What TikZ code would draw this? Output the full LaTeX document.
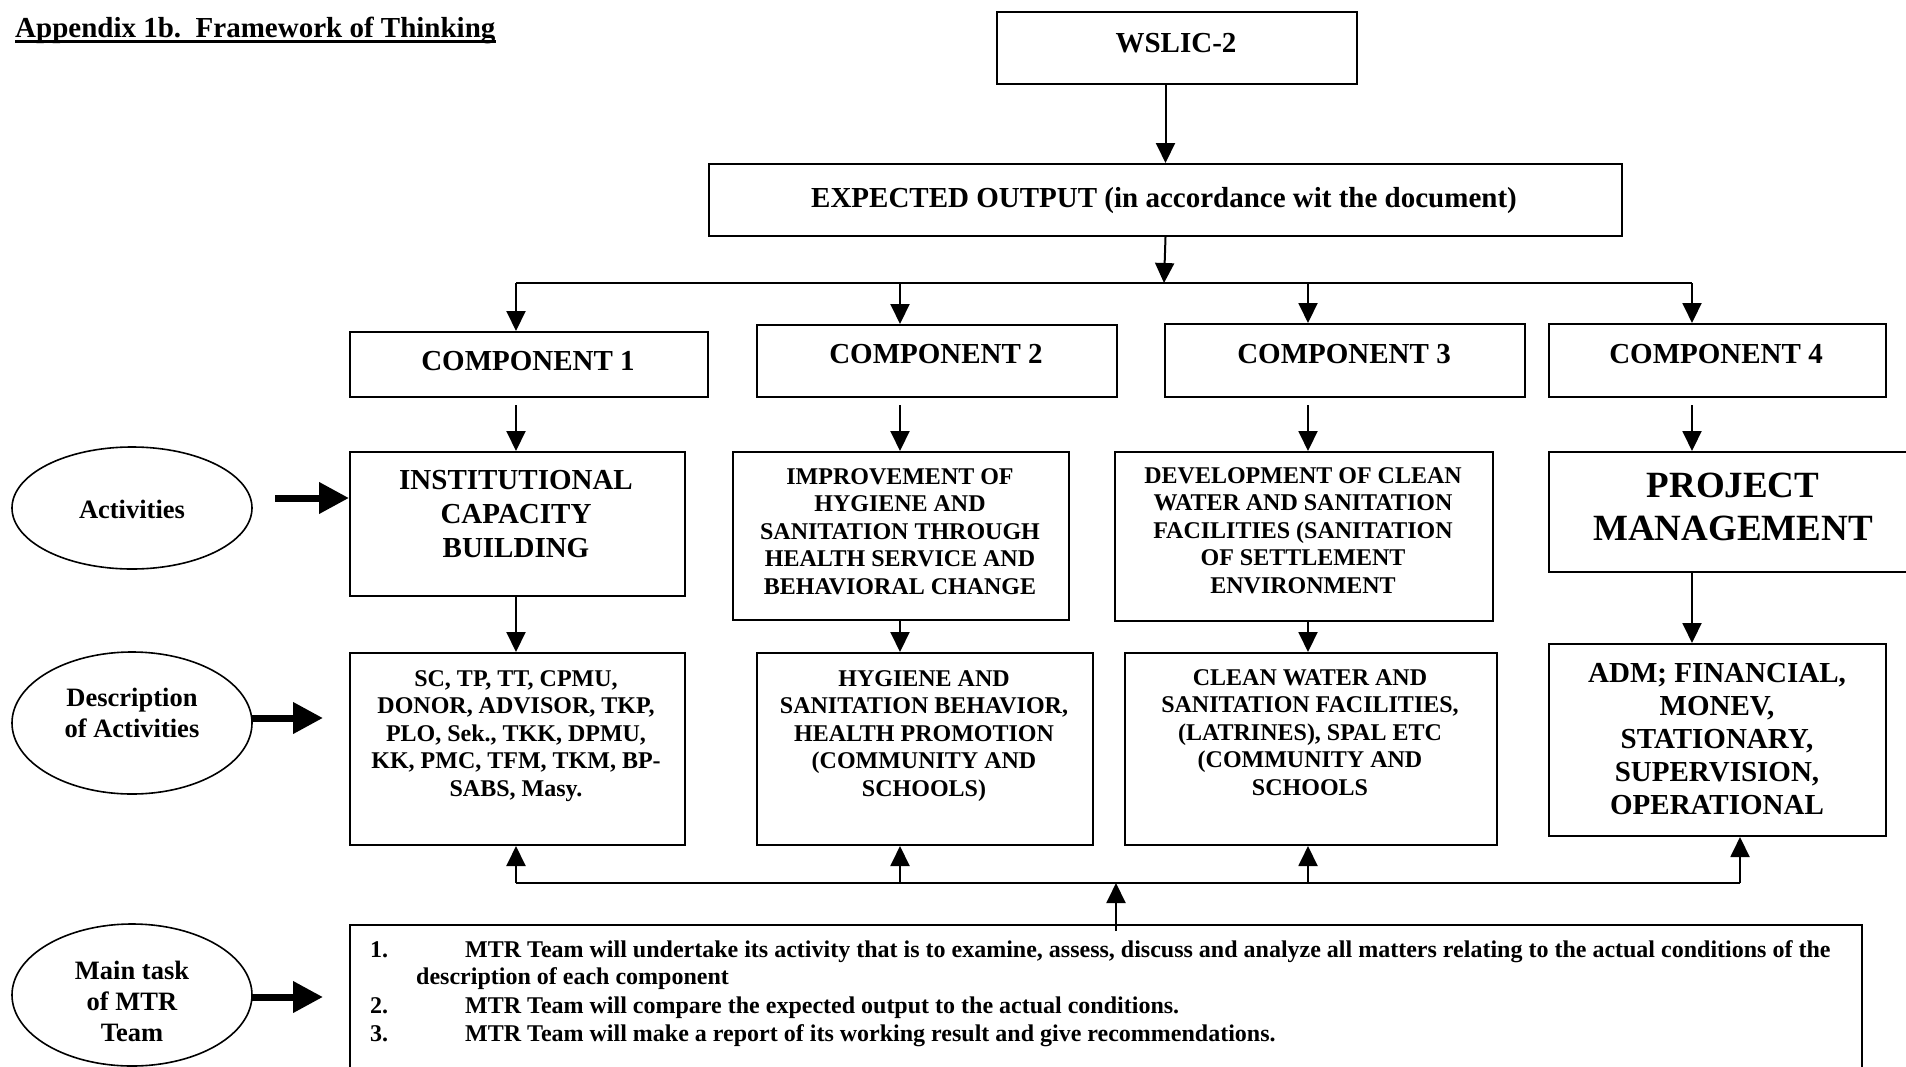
\documentclass[tikz,border=0pt]{standalone}
\usepackage{fontspec}
\setmainfont{Liberation Serif}
\usetikzlibrary{arrows.meta,shapes.geometric}
\begin{document}
\begin{tikzpicture}[x=1pt,y=-1pt,
  box/.style={draw, line width=2pt, rectangle, inner sep=0pt, anchor=north west},
  oval/.style={draw, ellipse, line width=1.6pt, inner sep=0pt},
  conn/.style={line width=2pt, -{Triangle[length=20pt,width=19pt]}},
  plain/.style={line width=2pt},
  fat/.style={line width=7pt, -{Triangle[length=30pt,width=30pt]}},
  tA/.style={font=\fontsize{29}{34}\selectfont\bfseries, align=center, anchor=base, inner sep=0pt},
  tB/.style={font=\fontsize{24}{27.5}\selectfont\bfseries, align=center, anchor=base, inner sep=0pt},
  tC/.style={font=\fontsize{37}{43}\selectfont\bfseries, align=center, anchor=base, inner sep=0pt},
  tD/.style={font=\fontsize{29}{33}\selectfont\bfseries, align=center, anchor=base, inner sep=0pt},
  tE/.style={font=\fontsize{26.5}{31}\selectfont\bfseries, align=center, anchor=base, inner sep=0pt},
  tM/.style={font=\fontsize{24}{27.5}\selectfont\bfseries, anchor=base west, inner sep=0pt}
]
\useasboundingbox (0,0) rectangle (1906,1066);
\clip (0,0) rectangle (1906,1066);
\fill[white] (0,0) rectangle (1906,1066);

% title
\node[anchor=base west, inner sep=0pt, font=\fontsize{29}{34}\selectfont\bfseries] (ttl) at (15,37) {Appendix 1b.\ \ Framework of Thinking};
\draw[line width=2.6pt] ([yshift=-4.5pt]ttl.base west) -- ([yshift=-4.5pt]ttl.base east);

% top boxes
\node[box, minimum width=360pt, minimum height=72pt] (wslic) at (996,11) {};
\node[tA] (wslict) at (1176,52) {WSLIC-2};
\node[box, minimum width=913pt, minimum height=72pt] (eo) at (708,163) {};
\node[tA] (eot) at (1164,207) {EXPECTED OUTPUT (in accordance wit the document)};

% components
\node[box, minimum width=358pt, minimum height=65pt] (c1) at (349,331) {};
\node[box, minimum width=360pt, minimum height=72pt] (c2) at (756,324) {};
\node[box, minimum width=360pt, minimum height=73pt] (c3) at (1164,323) {};
\node[box, minimum width=337pt, minimum height=73pt] (c4) at (1548,323) {};
\node[tA] (c1t) at (528,370) {COMPONENT 1};
\node[tA] (c2t) at (936,363) {COMPONENT 2};
\node[tA] (c3t) at (1344,363) {COMPONENT 3};
\node[tA] (c4t) at (1716,363) {COMPONENT 4};

% activities
\node[box, minimum width=335pt, minimum height=144pt] (a1) at (349,451) {};
\node[box, minimum width=336pt, minimum height=168pt] (a2) at (732,451) {};
\node[box, minimum width=378pt, minimum height=169pt] (a3) at (1114,451) {};
\node[box, minimum width=372pt, minimum height=120pt] (a4) at (1548,451) {};
\node[tA] (a1t) at (516,557) {INSTITUTIONAL\\CAPACITY\\BUILDING};
\node[tB] (a2t) at (900,594) {IMPROVEMENT OF\\HYGIENE AND\\SANITATION THROUGH\\HEALTH SERVICE AND\\BEHAVIORAL CHANGE};
\node[tB] (a3t) at (1303,593) {DEVELOPMENT OF CLEAN\\WATER AND SANITATION\\FACILITIES (SANITATION\\OF SETTLEMENT\\ENVIRONMENT};
\node[tC] (a4t) at (1733,540) {PROJECT\\MANAGEMENT};

% descriptions
\node[box, minimum width=335pt, minimum height=192pt] (d1) at (349,652) {};
\node[box, minimum width=336pt, minimum height=192pt] (d2) at (756,652) {};
\node[box, minimum width=372pt, minimum height=192pt] (d3) at (1124,652) {};
\node[box, minimum width=337pt, minimum height=192pt] (d4) at (1548,643) {};
\node[tB] (d1t) at (516,796) {SC, TP, TT, CPMU,\\DONOR, ADVISOR, TKP,\\PLO, Sek., TKK, DPMU,\\KK, PMC, TFM, TKM, BP-\\SABS, Masy.};
\node[tB] (d2t) at (924,796) {HYGIENE AND\\SANITATION BEHAVIOR,\\HEALTH PROMOTION\\(COMMUNITY AND\\SCHOOLS)};
\node[tB] (d3t) at (1310,795) {CLEAN WATER AND\\SANITATION FACILITIES,\\(LATRINES), SPAL ETC\\(COMMUNITY AND\\SCHOOLS};
\node[tD] (d4t) at (1717,814) {ADM; FINANCIAL,\\MONEV,\\STATIONARY,\\SUPERVISION,\\OPERATIONAL};

% MTR task box
\node[box, minimum width=1512pt, minimum height=170pt] (mtr) at (349,924) {};
\node[tM] (n1) at (370,957) {1.};
\node[tM] (m1) at (465,957) {MTR Team will undertake its activity that is to examine, assess, discuss and analyze all matters relating to the actual conditions of the};
\node[tM] (m1b) at (416,984) {description of each component};
\node[tM] (n2) at (370,1013) {2.};
\node[tM] (m2) at (465,1013) {MTR Team will compare the expected output to the actual conditions.};
\node[tM] (n3) at (370,1041) {3.};
\node[tM] (m3) at (465,1041) {MTR Team will make a report of its working result and give recommendations.};

% ellipses
\node[oval, minimum width=240pt, minimum height=122pt] (e1) at (132,508) {};
\node[tE] (e1t) at (132,518) {Activities};
\node[oval, minimum width=240pt, minimum height=142pt] (e2) at (132,723) {};
\node[tE] (e2t) at (132,737) {Description\\of Activities};
\node[oval, minimum width=240pt, minimum height=142pt] (e3) at (132,995) {};
\node[tE] (e3t) at (132,1041) {Main task\\of MTR\\Team};

% bus coordinates
\coordinate (kc) at (1164,283);
\coordinate (k1) at (516,283);
\coordinate (k2) at (900,283);
\coordinate (k3) at (1308,283);
\coordinate (k4) at (1692,283);
\coordinate (b1) at (516,883);
\coordinate (b2) at (900,883);
\coordinate (b3) at (1308,883);
\coordinate (b4) at (1740,883);
\coordinate (bm) at (1116,883);

% top connectors
\draw[conn] (wslic.south -| eo.north) -- (eo.north);
\draw[conn] (eo.south) -- (kc);
\draw[plain] (k1) -- (k4);
\draw[conn] (k1) -- (k1 |- c1.north);
\draw[conn] (k2) -- (k2 |- c2.north);
\draw[conn] (k3) -- (k3 |- c3.north);
\draw[conn] (k4) -- (k4 |- c4.north);

% component -> activity
\draw[conn, shorten <=7pt] (c1.south -| k1) -- (a1.north -| k1);
\draw[conn, shorten <=7pt] (c2.south -| k2) -- (a2.north -| k2);
\draw[conn, shorten <=7pt] (c3.south -| k3) -- (a3.north -| k3);
\draw[conn, shorten <=7pt] (c4.south -| k4) -- (a4.north -| k4);

% activity -> description
\draw[conn] (a1.south -| k1) -- (d1.north -| k1);
\draw[conn] (a2.south -| k2) -- (d2.north -| k2);
\draw[conn] (a3.south -| k3) -- (d3.north -| k3);
\draw[conn] (a4.south -| k4) -- (d4.north -| k4);

% bottom bus
\draw[plain] (b1) -- (b4);
\draw[conn] (b1) -- (b1 |- d1.south);
\draw[conn] (b2) -- (b2 |- d2.south);
\draw[conn] (b3) -- (b3 |- d3.south);
\draw[conn] (b4) -- (b4 |- d4.south);
\draw[conn] ([yshift=-7pt]mtr.north -| bm) -- (bm);

% fat arrows
\coordinate (f1) at (275,498);
\draw[fat] (f1) -- (f1 -| a1.west);
\coordinate (f2) at (252,718);
\coordinate (f2e) at (323,718);
\draw[fat] (f2) -- (f2e);
\coordinate (f3) at (252,997);
\coordinate (f3e) at (323,997);
\draw[fat] (f3) -- (f3e);
\end{tikzpicture}
\end{document}
